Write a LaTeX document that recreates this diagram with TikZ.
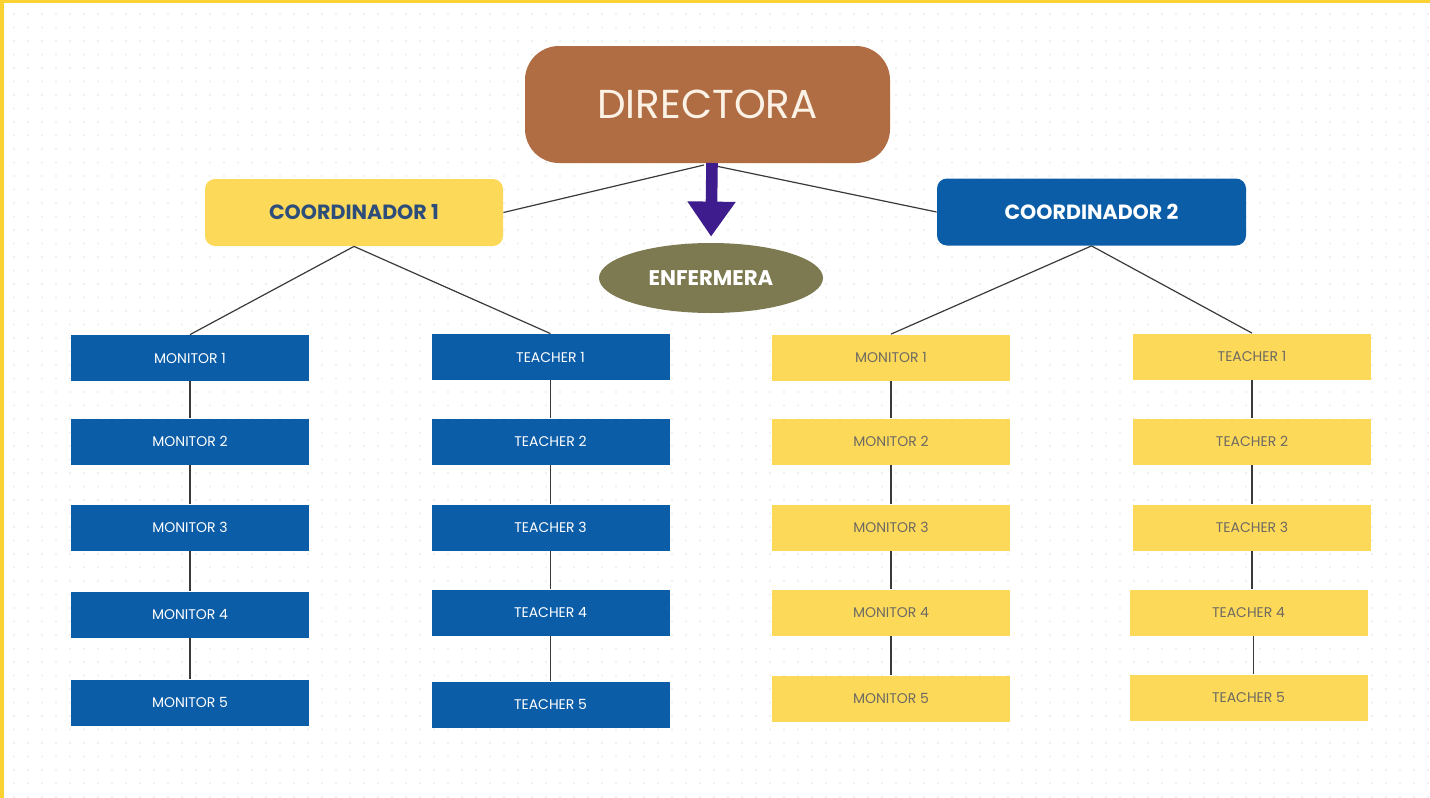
\documentclass[tikz,border=0pt]{standalone}
\usepackage{fontspec}
\setmainfont{Poppins}
\usetikzlibrary{arrows.meta,shapes.geometric}
\definecolor{frameY}{HTML}{FCD232}
\definecolor{dotc}{HTML}{EDEDED}
\definecolor{dirBrown}{HTML}{B06D44}
\definecolor{dirText}{HTML}{FBF1E4}
\definecolor{boxBlue}{HTML}{0C5DA7}
\definecolor{boxYellow}{HTML}{FDD95A}
\definecolor{coordText}{HTML}{2D4D7A}
\definecolor{yText}{HTML}{6D6A62}
\definecolor{olive}{HTML}{7D7A51}
\definecolor{arrowPurple}{HTML}{3E1C8D}
\definecolor{lineGray}{HTML}{3A3A3A}
\tikzset{
  boxbase/.style={rectangle, inner sep=0pt, minimum width=119pt, minimum height=23pt,
    font=\fontsize{7pt}{8pt}\selectfont},
  bluebox/.style={boxbase, fill=boxBlue, text=white},
  yelbox/.style={boxbase, fill=boxYellow, text=yText},
  coordbox/.style={rectangle, rounded corners=5pt, inner sep=0pt, minimum width=149pt,
    minimum height=33.5pt, font=\bfseries\fontsize{10.3pt}{12pt}\selectfont},
  link/.style={draw=lineGray, line width=0.6pt},
}
\begin{document}
\begin{tikzpicture}[x=0.5pt,y=-0.5pt]
\useasboundingbox (0,0) rectangle (1430,798);
\fill[white] (0,0) rectangle (1430,798);
% faint dot grid
\foreach \x in {14,28,...,1428} {
  \foreach \y in {14,27.5,...,798} {
    \fill[dotc] (\x,\y) circle[radius=0.6pt];
  }
}
% frame
\fill[frameY] (0,0) rectangle (1430,3);
\fill[frameY] (0,0) rectangle (4,798);

% top level
\node[rectangle, rounded corners=17pt, fill=dirBrown, text=dirText, inner sep=0pt,
  minimum width=182.5pt, minimum height=58.5pt,
  font=\fontsize{20.2pt}{22pt}\selectfont] (dir) at (707.5,104.5) {DIRECTORA};
\node[coordbox, fill=boxYellow, text=coordText] (c1) at (354,212.5) {COORDINADOR 1};
\node[coordbox, fill=boxBlue, text=white, minimum width=154.5pt] (c2) at (1091.5,212) {COORDINADOR 2};
\node[ellipse, fill=olive, text=white, inner sep=0pt, minimum width=112pt, minimum height=35pt,
  font=\bfseries\fontsize{10.6pt}{12pt}\selectfont] (enf) at (711,278) {ENFERMERA};

% links from directora
\coordinate (dl) at (704,165);
\coordinate (dr) at (711,165);
\draw[link] (dl) -- (c1.east);
\draw[link] (dr) -- (c2.west);
\draw[arrowPurple, line width=5.8pt, shorten >=3pt, -{Triangle[width=23pt,length=17.5pt]}]
  (712,163) -- (enf.north);

% column 1: monitors (blue)
\node[bluebox] (a1) at (190,358) {MONITOR 1};
\node[bluebox] (a2) at (190,441.5) {MONITOR 2};
\node[bluebox] (a3) at (190,527.5) {MONITOR 3};
\node[bluebox] (a4) at (190,614.5) {MONITOR 4};
\node[bluebox] (a5) at (190,702.5) {MONITOR 5};
% column 2: teachers (blue)
\node[bluebox] (b1) at (550.5,357) {TEACHER 1};
\node[bluebox] (b2) at (550.5,441.5) {TEACHER 2};
\node[bluebox] (b3) at (550.5,527.5) {TEACHER 3};
\node[bluebox] (b4) at (550.5,612.5) {TEACHER 4};
\node[bluebox] (b5) at (550.5,704.5) {TEACHER 5};
% column 3: monitors (yellow)
\node[yelbox] (d1) at (891,357.5) {MONITOR 1};
\node[yelbox] (d2) at (891,441.5) {MONITOR 2};
\node[yelbox] (d3) at (891,527.5) {MONITOR 3};
\node[yelbox] (d4) at (891,612.5) {MONITOR 4};
\node[yelbox] (d5) at (891,698.5) {MONITOR 5};
% column 4: teachers (yellow)
\node[yelbox] (e1) at (1252,356.5) {TEACHER 1};
\node[yelbox] (e2) at (1252,441.5) {TEACHER 2};
\node[yelbox] (e3) at (1252,527.5) {TEACHER 3};
\node[yelbox] (e4) at (1248.5,612.5) {TEACHER 4};
\node[yelbox] (e5) at (1248.5,697.5) {TEACHER 5};

% coordinator links
\draw[link] (c1.south) -- (a1.north);
\draw[link] (c1.south) -- (b1.north);
\draw[link] (c2.south) -- (d1.north);
\draw[link] (c2.south) -- (e1.north);

% vertical chains
\foreach \c in {a,b,d} {
  \foreach \i/\j in {1/2,2/3,3/4,4/5} {
    \draw[link] (\c\i.south) -- (\c\j.north);
  }
}
\draw[link] (e1.south) -- (e2.north);
\draw[link] (e2.south) -- (e3.north);
\draw[link] (e3.south) -- (e3.south |- e4.north);
\draw[link] ([xshift=2.5pt]e4.south) -- ([xshift=2.5pt]e5.north);
\end{tikzpicture}
\end{document}
